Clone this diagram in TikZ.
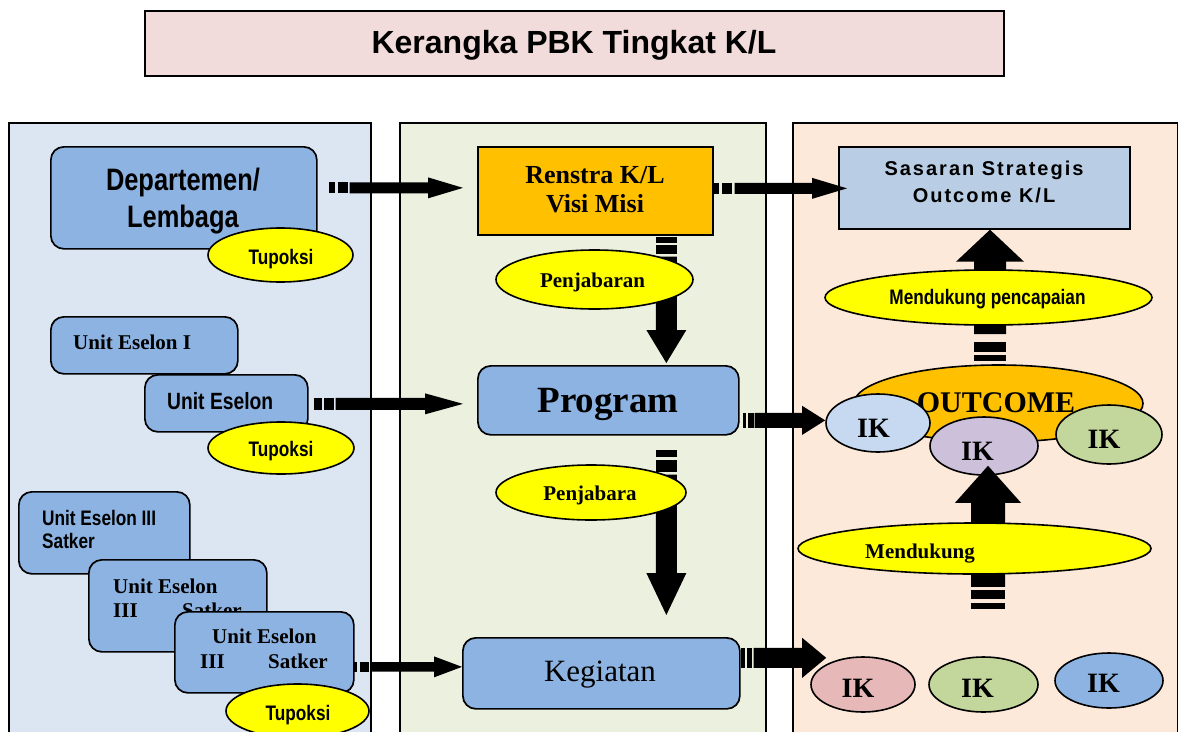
\documentclass[tikz,border=0pt]{standalone}
\usepackage{fontspec}
\setmainfont{Liberation Serif}
\setsansfont{Liberation Sans}
\newfontfamily\narrowsans[FakeStretch=0.82]{Liberation Sans}
\newfontfamily\spacedsans[LetterSpace=10]{Liberation Sans}
\usetikzlibrary{shapes.geometric,calc}

\definecolor{panelleft}{HTML}{DCE6F2}
\definecolor{panelmid}{HTML}{EBF1DE}
\definecolor{panelright}{HTML}{FDE9D9}
\definecolor{titlepink}{HTML}{F2DCDB}
\definecolor{boxblue}{HTML}{8DB3E2}
\definecolor{sasaranblue}{HTML}{B9CDE5}
\definecolor{goldfill}{HTML}{FFC000}
\definecolor{ovalyellow}{HTML}{FFFF00}
\definecolor{iklightblue}{HTML}{C6D9F1}
\definecolor{ikpurple}{HTML}{CCC0DA}
\definecolor{ikgreen}{HTML}{C3D69B}
\definecolor{ikpink}{HTML}{E6B9B8}

% striped block arrow: stripe, gap, stripe, gap, then bar with a triangular head
\pgfkeys{/sarrow/.is family, /sarrow,
  bar/.store in=\sabar, head/.store in=\sahead, hlen/.store in=\sahlen,
  sa/.store in=\sasa, ga/.store in=\saga, sb/.store in=\sasb, gb/.store in=\sagb}
\newcommand\sarrow[3][]{%
  \begingroup
  \pgfkeys{/sarrow,bar=11,head=21,hlen=35,sa=6,ga=3,sb=10,gb=2,#1}%
  \pgfpointdiff{\pgfpointanchor{#2}{center}}{\pgfpointanchor{#3}{center}}%
  \pgfgetlastxy{\sadx}{\sady}%
  \pgfmathsetmacro\salen{abs(\sadx)+abs(\sady)}%
  \pgfmathsetmacro\saang{atan2(\sady,\sadx)}%
  \pgfmathsetmacro\sahb{\sabar/2}%
  \pgfmathsetmacro\sahh{\sahead/2}%
  \pgfmathsetmacro\saxa{\sasa}%
  \pgfmathsetmacro\saxb{\sasa+\saga}%
  \pgfmathsetmacro\saxc{\sasa+\saga+\sasb}%
  \pgfmathsetmacro\saxd{\saxc+\sagb}%
  \pgfmathsetmacro\saxe{\salen-\sahlen}%
  \begin{scope}[shift={(#2)}, rotate=\saang, x=1pt, y=1pt]
    \fill (0,-\sahb) rectangle (\saxa,\sahb);
    \fill (\saxb,-\sahb) rectangle (\saxc,\sahb);
    \fill (\saxd,-\sahb) -- (\saxe,-\sahb) -- (\saxe,-\sahh) -- (\salen,0)
      -- (\saxe,\sahh) -- (\saxe,\sahb) -- (\saxd,\sahb) -- cycle;
  \end{scope}
  \endgroup}

\tikzset{
  box/.style={draw, line width=1.7pt, inner sep=0pt, anchor=north west},
  roundbox/.style={box, rounded corners=13pt, fill=boxblue},
  oval/.style={ellipse, draw, line width=1.6pt, inner sep=0pt},
  yoval/.style={oval, fill=ovalyellow},
  lbl/.style={anchor=base, inner sep=0pt},
  lblw/.style={anchor=base west, inner sep=0pt},
  ftitle/.style={font=\sffamily\bfseries\fontsize{32}{38}\selectfont},
  fdep/.style={font=\narrowsans\bfseries\fontsize{31}{37}\selectfont},
  fnar/.style={font=\narrowsans\bfseries\fontsize{21}{25}\selectfont},
  fren/.style={font=\rmfamily\bfseries\fontsize{26}{30}\selectfont},
  fsas/.style={font=\spacedsans\bfseries\fontsize{20}{24}\selectfont},
  fserb/.style={font=\rmfamily\bfseries\fontsize{21}{25}\selectfont},
  fprog/.style={font=\rmfamily\bfseries\fontsize{37}{44}\selectfont},
  fkeg/.style={font=\rmfamily\fontsize{31}{37}\selectfont},
  fuen/.style={font=\narrowsans\bfseries\fontsize{23.5}{28}\selectfont},
  fout/.style={font=\rmfamily\bfseries\fontsize{30}{36}\selectfont},
  fik/.style={font=\rmfamily\bfseries\fontsize{28}{34}\selectfont},
}

\begin{document}
\begin{tikzpicture}[x=1pt,y=-1pt]
\useasboundingbox (0,0) rectangle (1178,731);

% columns and heading
\node[box, fill=panelleft, minimum width=362, minimum height=640] (pl) at (8,122) {};
\node[box, fill=panelmid, minimum width=366, minimum height=640] (pm) at (399,122) {};
\node[box, fill=panelright, minimum width=385, minimum height=640] (pr) at (792,122) {};
\node[box, fill=titlepink, minimum width=859, minimum height=65] (title) at (144,10) {};
\node[lbl, ftitle] (ttitle) at (574,53) {Kerangka PBK Tingkat K/L};

% left column: organisation units
\node[roundbox, minimum width=266, minimum height=102] (dep) at (50,146) {};
\node[lbl, fdep] (tdep1) at (183,190) {Departemen/};
\node[lbl, fdep] (tdep2) at (183,227) {Lembaga};

\node[roundbox, minimum width=187, minimum height=57] (ue1) at (50,316) {};
\node[lblw, fserb] (tue1) at (73,349) {Unit Eselon I};
\node[roundbox, minimum width=163, minimum height=57] (ue2) at (144,374) {};
\node[lblw, fuen] (tue2) at (167,409) {Unit Eselon};

\node[roundbox, minimum width=171, minimum height=82] (b1) at (18,491) {};
\node[lblw, fnar] (tb1a) at (42,525) {Unit Eselon III};
\node[lblw, fnar] (tb1b) at (42,548) {Satker};
\node[roundbox, minimum width=178, minimum height=92] (b2) at (88,559) {};
\node[lblw, fserb] (tb2a) at (113,593) {Unit Eselon};
\node[lblw, fserb] (tb2b) at (113,617) {III};
\node[lblw, fserb] (tb2c) at (182,617) {Satker};
\node[roundbox, minimum width=179, minimum height=81] (b3) at (174,611) {};
\node[lblw, fserb] (tb3a) at (212,643) {Unit Eselon};
\node[lblw, fserb] (tb3b) at (200,668) {III};
\node[lblw, fserb] (tb3c) at (268,668) {Satker};

% middle column: planning documents
\node[box, fill=goldfill, minimum width=235, minimum height=88] (renstra) at (477,146) {};
\node[lbl, fren] (tren1) at (595,183) {Renstra K/L};
\node[lbl, fren] (tren2) at (595,212) {Visi Misi};
\node[roundbox, minimum width=261, minimum height=69] (program) at (477,365) {};
\node[lbl, fprog] (tprog) at (608,412) {Program};
\node[roundbox, minimum width=277, minimum height=71] (kegiatan) at (462,637) {};
\node[lbl, fkeg] (tkeg) at (600,681) {Kegiatan};

% right column: goals, outcome and indicators
\node[box, fill=sasaranblue, minimum width=291, minimum height=82] (sasaran) at (838,146) {};
\node[lbl, fsas] (tsas1) at (984,175) {Sasaran Strategis};
\node[lbl, fsas] (tsas2) at (984,202) {Outcome K/L};

\node[oval, fill=goldfill, minimum width=289, minimum height=77] (outcome) at (998.5,403.5) {};
\node[lbl, fout] (tout) at (996,412) {OUTCOME};

\node[oval, fill=iklightblue, minimum width=104, minimum height=58] (ikA) at (878,423) {};
\node[oval, fill=ikpurple, minimum width=108, minimum height=58] (ikB) at (984,446) {};
\node[oval, fill=ikgreen, minimum width=106, minimum height=59] (ikC) at (1109,434.5) {};
\node[oval, fill=ikpink, minimum width=104, minimum height=55] (ikD) at (863,684.5) {};
\node[oval, fill=ikgreen, minimum width=109, minimum height=55] (ikE) at (983.5,684.5) {};
\node[oval, fill=boxblue, minimum width=108, minimum height=55] (ikF) at (1109,680.5) {};
\node[lbl, fik] (tikA) at (873.5,437) {IK};
\node[lbl, fik] (tikB) at (977.5,460) {IK};
\node[lbl, fik] (tikC) at (1104,448) {IK};
\node[lbl, fik] (tikD) at (858,697) {IK};
\node[lbl, fik] (tikE) at (977.5,697) {IK};
\node[lbl, fik] (tikF) at (1103.5,692) {IK};

% arrow end points
\coordinate (a1s) at ($(dep.east)+(11,-10)$);
\coordinate (a1e) at ($(renstra.west)+(-14,-3)$);
\coordinate (a2s) at ($(renstra.east)+(0,-2.5)$);
\coordinate (a2e) at ($(sasaran.west)+(9,0.5)$);
\coordinate (a3s) at ($(renstra.south)+(71,1)$);
\coordinate (a3e) at ($(program.north)+(58,-2)$);
\coordinate (a4s) at ($(ue2.east)+(5,0.5)$);
\coordinate (a4e) at ($(program.west)+(-14,3.5)$);
\coordinate (a5s) at ($(program.east)+(3,20)$);
\coordinate (a5e) at (ikA.west |- a5s);
\coordinate (a6s) at ($(program.south)+(58,14)$);
\coordinate (a6e) at ($(kegiatan.north)+(65,-22)$);
\coordinate (a7s) at ($(b3.east)+(-1,14.5)$);
\coordinate (a7e) at (kegiatan.west |- a7s);
\coordinate (a8s) at ($(kegiatan.east)+(0,-15.5)$);
\coordinate (a8e) at ($(ikD.west |- a8s)+(16,0)$);
\coordinate (a9s) at ($(outcome.north)+(-8.5,-3)$);
\coordinate (a9e) at (a9s |- sasaran.south);
\coordinate (a10s) at ($(ikB.south)+(4,133)$);
\coordinate (a10e) at ($(ikB.south)+(4,-10)$);

% striped block arrows
\sarrow{a1s}{a1e}
\sarrow[sa=5,ga=3,sb=10,gb=3]{a2s}{a2e}
\sarrow[bar=21,head=40,hlen=33,sa=6,ga=2,sb=9,gb=3]{a3s}{a3e}
\sarrow[bar=12,head=21,hlen=38,sa=8,ga=2,sb=10,gb=2]{a4s}{a4e}
\sarrow[bar=15,head=29,hlen=23,sa=3,ga=2,sb=6,gb=1]{a5s}{a5e}
\sarrow[bar=21,head=40,hlen=42,sa=7,ga=3,sb=12,gb=3]{a6s}{a6e}
\sarrow[bar=9.5,head=21,hlen=28,sa=3.5,ga=2.5,sb=9,gb=3]{a7s}{a7e}
\sarrow[bar=20,head=40,hlen=24,sa=4,ga=2,sb=5,gb=2]{a8s}{a8e}
\sarrow[bar=32,head=68,hlen=32,sa=6,ga=3,sb=10,gb=8]{a9s}{a9e}
\sarrow[bar=34,head=66,hlen=37,sa=6,ga=4,sb=9,gb=3]{a10s}{a10e}

% yellow labels
\node[yoval, minimum width=145, minimum height=54] (tup1) at (280.5,255) {};
\node[lbl, fnar] (ttup1) at (281,264) {Tupoksi};
\node[yoval, minimum width=146, minimum height=52] (tup2) at (281,448) {};
\node[lbl, fnar] (ttup2) at (281,456) {Tupoksi};
\node[yoval, minimum width=143, minimum height=54] (tup3) at (297.5,711) {};
\node[lbl, fnar] (ttup3) at (298,720) {Tupoksi};
\node[yoval, minimum width=197, minimum height=59] (penj1) at (594.5,279.5) {};
\node[lbl, fserb] (tpenj1) at (592.5,287) {Penjabaran};
\node[yoval, minimum width=190, minimum height=55] (penj2) at (591,492.5) {};
\node[lbl, fserb] (tpenj2) at (590,500) {Penjabara};
\node[yoval, minimum width=327, minimum height=55] (mendpc) at (988.5,297.5) {};
\node[lbl, fnar] (tmendpc) at (987.5,304) {Mendukung pencapaian};
\node[yoval, minimum width=353, minimum height=51] (mend) at (974.5,548.5) {};
\node[lblw, fserb] (tmend) at (865,558) {Mendukung};
\end{tikzpicture}
\end{document}
